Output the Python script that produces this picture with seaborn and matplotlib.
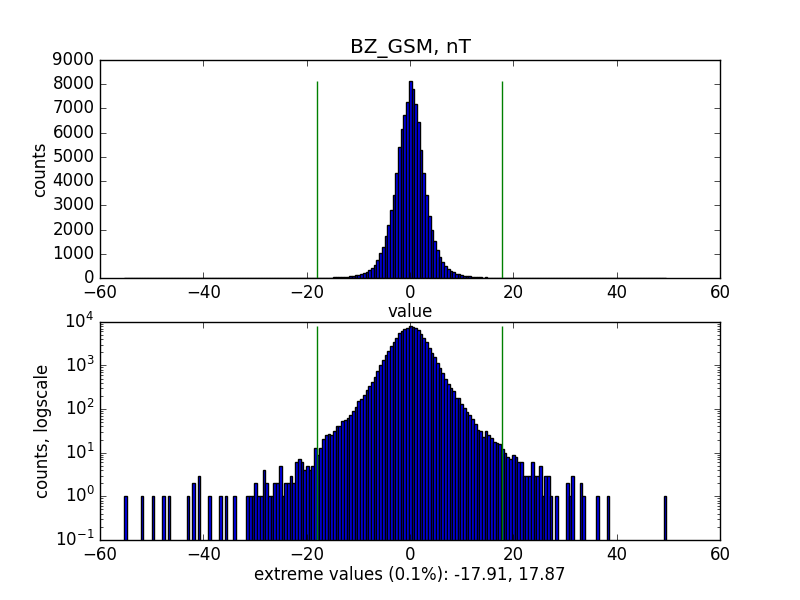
import numpy as np
import pandas as pd
import matplotlib
matplotlib.use("Agg")
import matplotlib.pyplot as plt
import seaborn as sns

# ---- data ----
title = "BZ_GSM, nT"
data_min = -55.27
data_max = 49.60
extremes = [-17.91, 17.87]

# counts per bin (200 equal bins from data_min to data_max)
left_tail = [1, 0, 0, 0, 0, 0, 1, 0, 0, 0, 1, 0, 0, 0, 1, 0, 1, 0, 0, 0,
             0, 0, 0, 1, 0, 2, 0, 3, 0, 0, 0, 1, 0, 0, 0, 1, 0, 1, 0, 0,
             1, 0, 0, 0, 0]
left_side = [1, 1, 1, 2, 1, 1, 4, 2, 1, 1, 2, 2, 5, 1, 2, 2, 3, 2, 6, 7,
             6, 4, 5, 4, 5, 13, 9, 13, 21, 25, 27, 25, 31, 40, 40, 52, 56,
             62, 75, 90, 111, 150, 172, 207, 268, 339, 421, 550, 757]
core = [1020, 1300, 1750, 2180, 2800, 3450, 4350, 5400, 6150, 6750, 7280,
        8150, 7800, 7170, 6450, 5280, 4320, 3440, 2560, 1970, 1540, 1150]
right_side = [890, 680, 495, 380, 305, 265, 183, 176, 128, 108, 87, 75, 60,
              46, 33, 32, 23, 32, 26, 22, 18, 17, 16, 12, 10, 8, 7, 9, 8,
              6, 6, 3, 3, 3, 6, 3, 3, 5, 1, 3, 3, 1, 0, 1, 0, 0, 0, 2, 1,
              3, 0, 0, 2, 1]
right_tail = [0, 0, 0, 0, 1, 0, 0, 0, 1, 0, 0, 0, 0, 0, 0, 0, 0, 0, 0, 0,
              0, 0, 0, 0, 0, 0, 0, 0, 0, 1]

counts = left_tail + left_side + core + right_side + right_tail

plt.style.use('classic')
plt.rcParams['font.family'] = ['DejaVu Sans']

n_bins = len(counts)
edges = np.linspace(data_min, data_max, n_bins + 1)
centers = (edges[:-1] + edges[1:]) / 2
df = pd.DataFrame({'value': centers, 'count': counts})

fig, (ax1, ax2) = plt.subplots(2, 1, figsize=(8, 6), dpi=100)
fig.subplots_adjust(left=0.125, right=0.9, bottom=0.1, top=0.9, hspace=0.2)

for ax in (ax1, ax2):
    if ax is ax2:
        ax.set_yscale('log')
    sns.histplot(data=df, x='value', weights='count', bins=n_bins,
                 binrange=(data_min, data_max), ax=ax,
                 color='b', edgecolor='k', linewidth=1, alpha=1)
    ax.vlines(extremes, 0, max(counts), colors='g', linewidth=1, zorder=5)
    ax.set_xlim(-60, 60)

ax1.set_ylim(0, 9000)
ax2.set_ylim(0.1, 1e4)

ax1.set_title(title, fontsize=14.4)
ax1.set_ylabel('counts', fontsize=12, labelpad=2)
ax1.set_xlabel('value', fontsize=12, labelpad=1)
ax2.set_ylabel('counts, logscale', fontsize=12, labelpad=2)
ax2.set_xlabel('extreme values (0.1%%): %.2f, %.2f' % (extremes[0], extremes[1]),
               fontsize=12, labelpad=2)

fig.savefig('out.png', dpi=100, facecolor='white')
